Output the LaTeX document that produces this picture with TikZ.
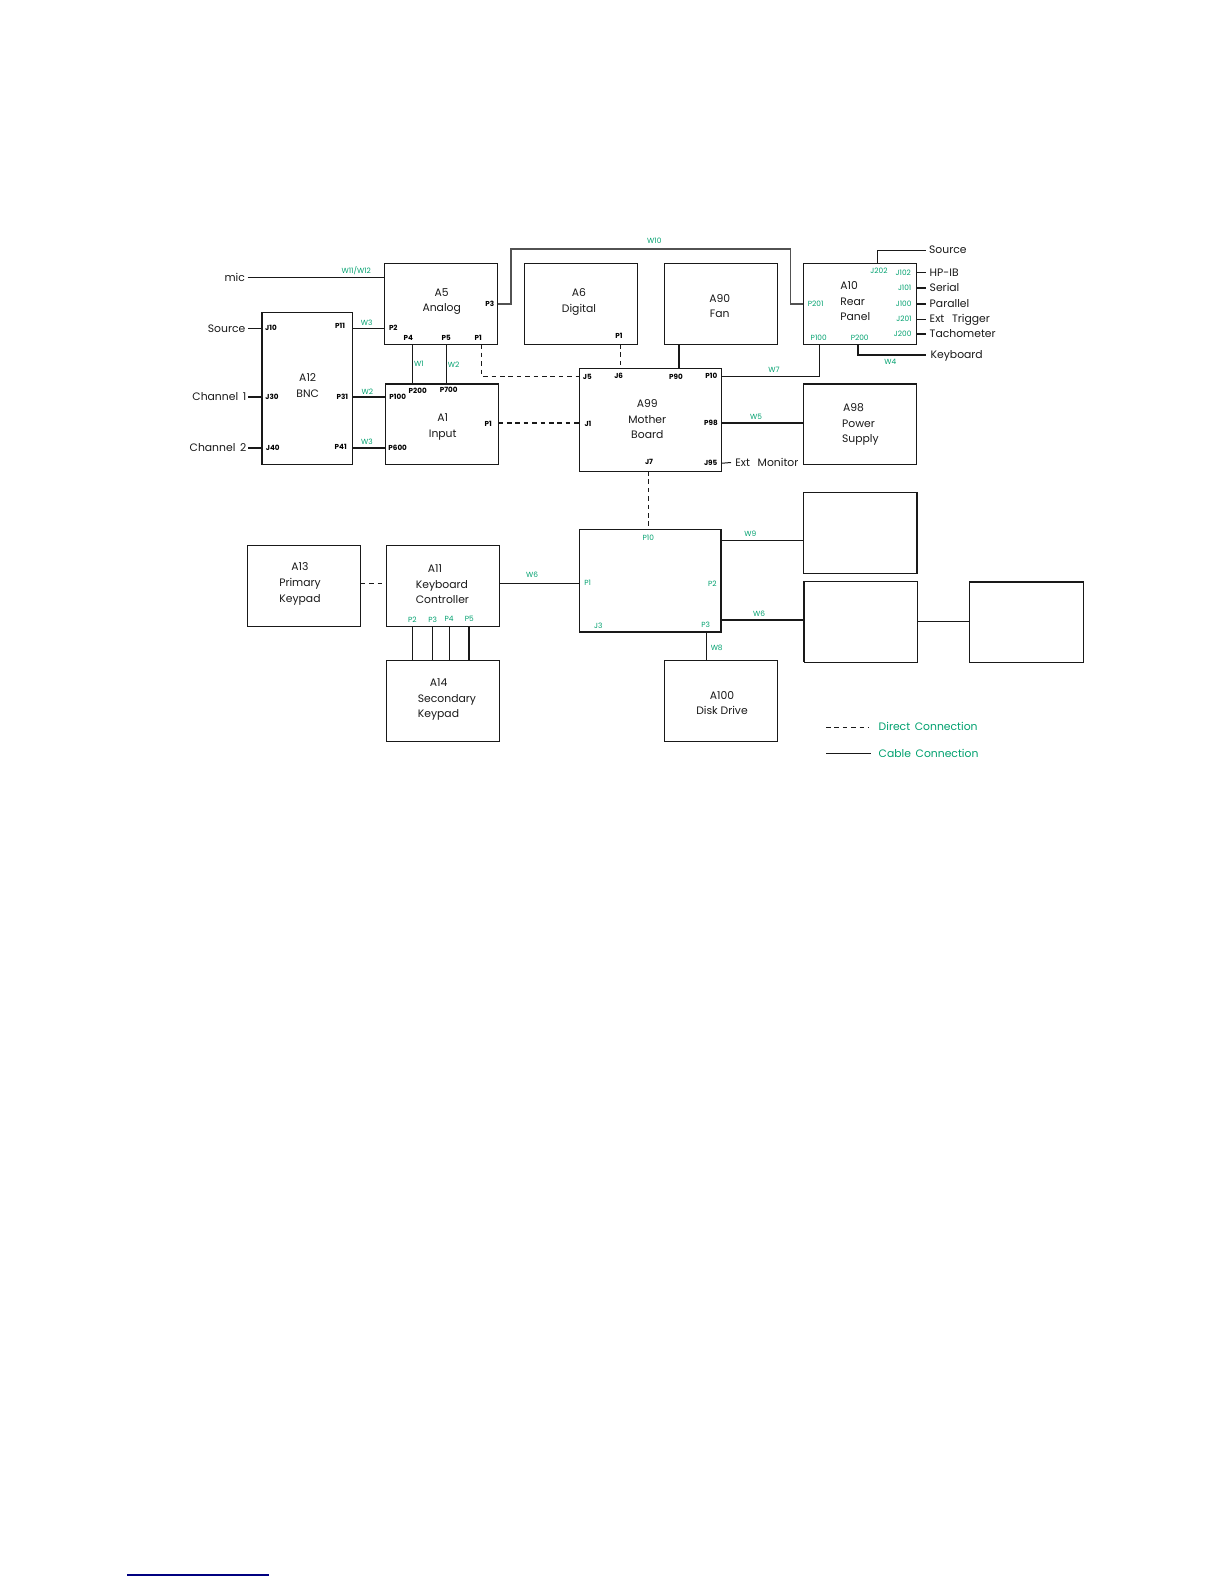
\documentclass[tikz,border=0pt]{standalone}
\usepackage{fontspec}
\setmainfont{Poppins}
\definecolor{pingreen}{RGB}{0,160,110}
\definecolor{inkblack}{RGB}{25,25,25}
\begin{document}
\begin{tikzpicture}[x=0.5pt, y=-0.5pt,
    unit/.style={draw=inkblack, line width=0.5pt, inner sep=0pt, outer sep=0pt, minimum width=56.7pt, minimum height=40.5pt},
    wide/.style={minimum width=70.85pt, minimum height=51.35pt},
    boxtxt/.style={text=inkblack, inner sep=0pt, font=\fontsize{5.4}{7.8}\selectfont},
    sig/.style={text=inkblack, inner sep=0pt, text height=3.8pt, text depth=0pt, font=\fontsize{5.4}{7.8}\selectfont},
    blk/.style={text=black, inner sep=0pt, font=\fontsize{3.6}{4}\selectfont\bfseries},
    grn/.style={text=pingreen, inner sep=0pt, font=\fontsize{3.7}{4}\selectfont},
    cable/.style={draw=inkblack, line width=0.5pt},
    heavy/.style={draw=inkblack, line width=1pt},
    direct/.style={draw=inkblack, line width=0.5pt, dash pattern=on 2.3pt off 1.9pt}]
    \useasboundingbox (0,0) rectangle (1224,1584);
    \node[unit] (a5) at (440.8,303.8) {};
    \node[unit] (a6) at (581,303.8) {};
    \node[unit] (a90) at (721,303.8) {};
    \node[unit] (a10) at (860,303.8) {};
    \node[unit, minimum width=45.5pt, minimum height=75.8pt] (a12) at (307.2,388.5) {};
    \node[unit] (a1) at (441.8,424) {};
    \node[unit, wide] (a99) at (650.2,419.7) {};
    \node[unit] (a98) at (860,424) {};
    \node[unit] (a13) at (304,585.8) {};
    \node[unit] (a11) at (443,585.8) {};
    \node[unit] (a14) at (443,700.8) {};
    \node[unit, wide] (mainb) at (650.2,580.7) {};
    \node[unit] (a100) at (721,700.8) {};
    \node[unit] (topb) at (860.5,532.8) {};
    \node[unit] (midb) at (861,621.5) {};
    \node[unit] (farb) at (1026.5,622) {};
    \draw[heavy] (a12.north west) -- (a12.south west);
    \draw[heavy] (a1.north west) -- (a1.north east);
    \draw[heavy] (a98.north west) -- (a98.north east);
    \draw[heavy] (mainb.north east) -- (mainb.south east) -- (mainb.south west);
    \draw[heavy] (topb.north east) -- (topb.south east);
    \draw[heavy] (midb.north west) -- (midb.south west);
    \draw[heavy] (farb.north west) -- (farb.north east);
    \node[boxtxt, align=center] (a5t) at (441.7,301.5) {A5\\Analog};
    \node[boxtxt, align=center] (a6t) at (579,302) {A6\\Digital};
    \node[boxtxt, align=center] (a90t) at (719.7,306) {A90\\Fan};
    \node[boxtxt, align=left, anchor=west] (a10t) at (840,301.3) {A10\\Rear\\Panel};
    \node[boxtxt, align=center] (a12t) at (307.7,385.5) {A12\\BNC};
    \node[boxtxt, align=center] (a1t) at (442.7,427) {A1\\Input};
    \node[boxtxt, align=center] (a99t) at (647.3,419.3) {A99\\Mother\\Board};
    \node[boxtxt, align=left, anchor=west] (a98t) at (841.7,424.5) {\hspace*{0.5pt}A98\\Power\\Supply};
    \node[boxtxt, align=center] (a13t) at (300,584) {A13\\Primary\\Keypad};
    \node[boxtxt, align=left, anchor=west] (a11t) at (415.5,584.3) {\hspace*{6pt}A11\\Keyboard\\Controller};
    \node[boxtxt, align=left, anchor=west] (a14t) at (417.5,699.5) {\hspace*{6pt}A14\\Secondary\\Keypad};
    \node[boxtxt, align=center] (a100t) at (722,703) {A100\\Disk Drive};
    \node[sig, anchor=east] (mic) at (245.3,277.3) {mic};
    \node[sig, anchor=east] (srcl) at (245.7,328.3) {Source};
    \node[sig, anchor=east] (ch1) at (246.7,396.7) {Channel\, 1};
    \node[sig, anchor=east] (ch2) at (246.7,448) {Channel\, 2};
    \node[sig, anchor=west] (srcr) at (928.7,250) {Source};
    \node[sig, anchor=west] (hpib) at (929.3,272.7) {HP-IB};
    \node[sig, anchor=west] (serial) at (929.3,288) {Serial};
    \node[sig, anchor=west] (para) at (929.3,303.7) {Parallel};
    \node[sig, anchor=west] (trig) at (929.3,319) {Ext\;\, Trigger};
    \node[sig, anchor=west] (tach) at (929.3,334) {Tachometer};
    \node[sig, anchor=west] (kbd) at (930.3,354.7) {Keyboard};
    \node[sig, anchor=west] (mon) at (735,462.5) {Ext\;\, Monitor};
    \node[blk] (j10) at (271,328.3) {J10};
    \node[blk] (j30) at (272,396.7) {J30};
    \node[blk] (j40) at (272.7,448) {J40};
    \node[blk] (p11) at (340,326) {P11};
    \node[blk] (p31) at (342.3,396.7) {P31};
    \node[blk] (p41) at (340.7,447.3) {P41};
    \node[blk] (p2a) at (393.3,328.3) {P2};
    \node[blk] (p3a) at (489.7,303.7) {P3};
    \node[blk] (p4a) at (408.3,338.3) {P4};
    \node[blk] (p5a) at (446.3,338.3) {P5};
    \node[blk] (p1a) at (478.3,338.3) {P1};
    \node[blk] (p200a) at (417.7,390.7) {P200};
    \node[blk] (p700a) at (448.7,390) {P700};
    \node[blk] (p100a) at (397.7,397.3) {P100};
    \node[blk] (p600a) at (397.7,448) {P600};
    \node[blk] (p1b) at (488.3,423.7) {P1};
    \node[blk] (p1c) at (619,335.7) {P1};
    \node[blk] (j5) at (587.3,377.3) {J5};
    \node[blk] (j1) at (588,424) {J1};
    \node[blk] (j6) at (618.7,376) {J6};
    \node[blk] (p90) at (676,376.7) {P90};
    \node[blk] (p10) at (711.3,376) {P10};
    \node[blk] (p98) at (711,422.7) {P98};
    \node[blk] (j7) at (649,462) {J7};
    \node[blk] (j95) at (710.7,463.3) {J95};
    \node[grn] (w1112) at (356.3,271) {W11/W12};
    \node[grn] (w3a) at (366.7,322.3) {W3};
    \node[grn] (w2a) at (367.3,391.3) {W2};
    \node[grn] (w3b) at (367,442) {W3};
    \node[grn] (w1) at (419,363.7) {W1};
    \node[grn] (w2b) at (453.7,364.3) {W2};
    \node[grn] (w10) at (654.3,240.3) {W10};
    \node[grn] (w7) at (774,370) {W7};
    \node[grn] (w5) at (756,417.3) {W5};
    \node[grn] (w4) at (890.3,361.7) {W4};
    \node[grn] (j202) at (879,271) {J202};
    \node[grn] (j102) at (903.3,272.7) {J102};
    \node[grn] (j101) at (904.7,288) {J101};
    \node[grn] (j100) at (903.7,303.7) {J100};
    \node[grn] (j201) at (904,319) {J201};
    \node[grn] (j200) at (902.7,334) {J200};
    \node[grn] (p201) at (815.7,304) {P201};
    \node[grn] (p100b) at (818.7,337.3) {P100};
    \node[grn] (p200b) at (859.7,337.3) {P200};
    \node[grn] (p2c) at (412.3,619.3) {P2};
    \node[grn] (p3c) at (432.7,619.3) {P3};
    \node[grn] (p4c) at (449,619.3) {P4};
    \node[grn] (p5c) at (469.3,619.3) {P5};
    \node[grn] (w6a) at (532,574.7) {W6};
    \node[grn] (p1d) at (587.7,583.3) {P1};
    \node[grn] (p10d) at (648.3,537.3) {P10};
    \node[grn] (p2d) at (712.3,584) {P2};
    \node[grn] (p3d) at (705.7,625) {P3};
    \node[grn] (j3) at (598.3,625.3) {J3};
    \node[grn] (w8) at (716.7,648) {W8};
    \node[grn] (w9) at (750.3,534) {W9};
    \node[grn] (w6b) at (759,613.3) {W6};
    \node[sig, text=pingreen, anchor=west] (lgd) at (878.3,727) {Direct\, Connection};
    \node[sig, text=pingreen, anchor=west] (lgc) at (878.3,753.3) {Cable\, Connection};
    \coordinate (w10l) at (511,249);
    \coordinate (w10r) at (790.3,249);
    \coordinate (w7c) at (819.7,344);
    \coordinate (w4c) at (857.7,344);
    \coordinate (srcc) at (877.7,263.3);
    \coordinate (d1) at (481.3,376);
    \coordinate (d2) at (620.3,344);
    \coordinate (d3) at (648.5,471);
    \coordinate (w1c) at (412.3,344);
    \coordinate (w2c) at (446.3,344);
    \coordinate (fanc) at (679,344);
    \coordinate (w8c) at (706.3,632);
    \coordinate (w9c) at (721,540.3);
    \coordinate (w6c) at (721,620);
    \coordinate (farc) at (917.5,621.3);
    \coordinate (lg1) at (826,727.3);
    \coordinate (lg2) at (868.3,727.3);
    \coordinate (lg3) at (826,753.3);
    \coordinate (lg4) at (870.7,753.3);
    \coordinate (rule1) at (127,1575);
    \coordinate (rule2) at (269,1575);
    \draw[cable] (mic.east) ++(2.4,0) -- (a5.west |- mic);
    \draw[cable] (srcl.east) ++(2.3,0) -- (a12.west |- srcl);
    \draw[heavy] (ch1.east) ++(1.6,0) -- (a12.west |- ch1);
    \draw[heavy] (ch2.east) ++(1.6,0) -- (a12.west |- ch2);
    \draw[cable] (a12.east |- p2a) -- (a5.west |- p2a);
    \draw[heavy] (a12.east |- p31) -- (a1.west |- p31);
    \draw[heavy] (a12.east |- p600a) -- (a1.west |- p600a);
    \draw[cable] (w1c) -- (w1c |- a1.north);
    \draw[cable] (w2c) -- (w2c |- a1.north);
    \draw[direct] (d1 |- a5.south) -- (d1) -- (a99.west |- d1);
    \draw[direct, line width=1pt] (a1.east |- p98) -- (a99.west |- p98);
    \draw[direct] (d2) -- (d2 |- a99.north);
    \draw[heavy] (fanc) -- (fanc |- a99.north);
    \draw[draw=inkblack!75, line width=0.8pt] (a5.east |- p3a) -| (w10l) -- (w10r) |- (a10.west |- p201);
    \draw[cable] (a99.east |- p10) -| (w7c);
    \draw[heavy] (a99.east |- p98) -- (a98.west |- p98);
    \draw[cable] (a99.east |- j95) -- ([xshift=-2pt]mon.west);
    \draw[cable] (srcc) |- ([xshift=-1.3pt]srcr.west);
    \draw[cable] (a10.east |- hpib) -- ([xshift=-1.6pt]hpib.west);
    \draw[heavy] (a10.east |- serial) -- ([xshift=-1.6pt]serial.west);
    \draw[heavy] (a10.east |- para) -- ([xshift=-1.6pt]para.west);
    \draw[cable] (a10.east |- trig) -- ([xshift=-1.6pt]trig.west);
    \draw[heavy] (a10.east |- tach) -- ([xshift=-1.6pt]tach.west);
    \draw[heavy] (w4c) |- ([xshift=-2.1pt]kbd.west);
    \draw[direct] (d3) -- (d3 |- mainb.north);
    \draw[direct] (a13.east |- w6a) ++(0,8.6) -- (a11.west |- p1d);
    \draw[cable] (a11.east |- p1d) -- (mainb.west |- p1d);
    \draw[cable] (p2c.south |- a11.south) -- (p2c.south |- a14.north);
    \draw[cable] (p3c.south |- a11.south) -- (p3c.south |- a14.north);
    \draw[cable] (p4c.south |- a11.south) -- (p4c.south |- a14.north);
    \draw[heavy] (p5c.south |- a11.south) -- (p5c.south |- a14.north);
    \draw[cable] (w8c) -- (w8c |- a100.north);
    \draw[cable] (w9c) -- (topb.west |- w9c);
    \draw[heavy] (w6c) -- (midb.west |- w6c);
    \draw[cable] (farc) -- (farb.west |- farc);
    \draw[direct] (lg1) -- (lg2);
    \draw[cable] (lg3) -- (lg4);
    \draw[draw=blue!50!black, line width=0.6pt] (rule1) -- (rule2);
\end{tikzpicture}
\end{document}
